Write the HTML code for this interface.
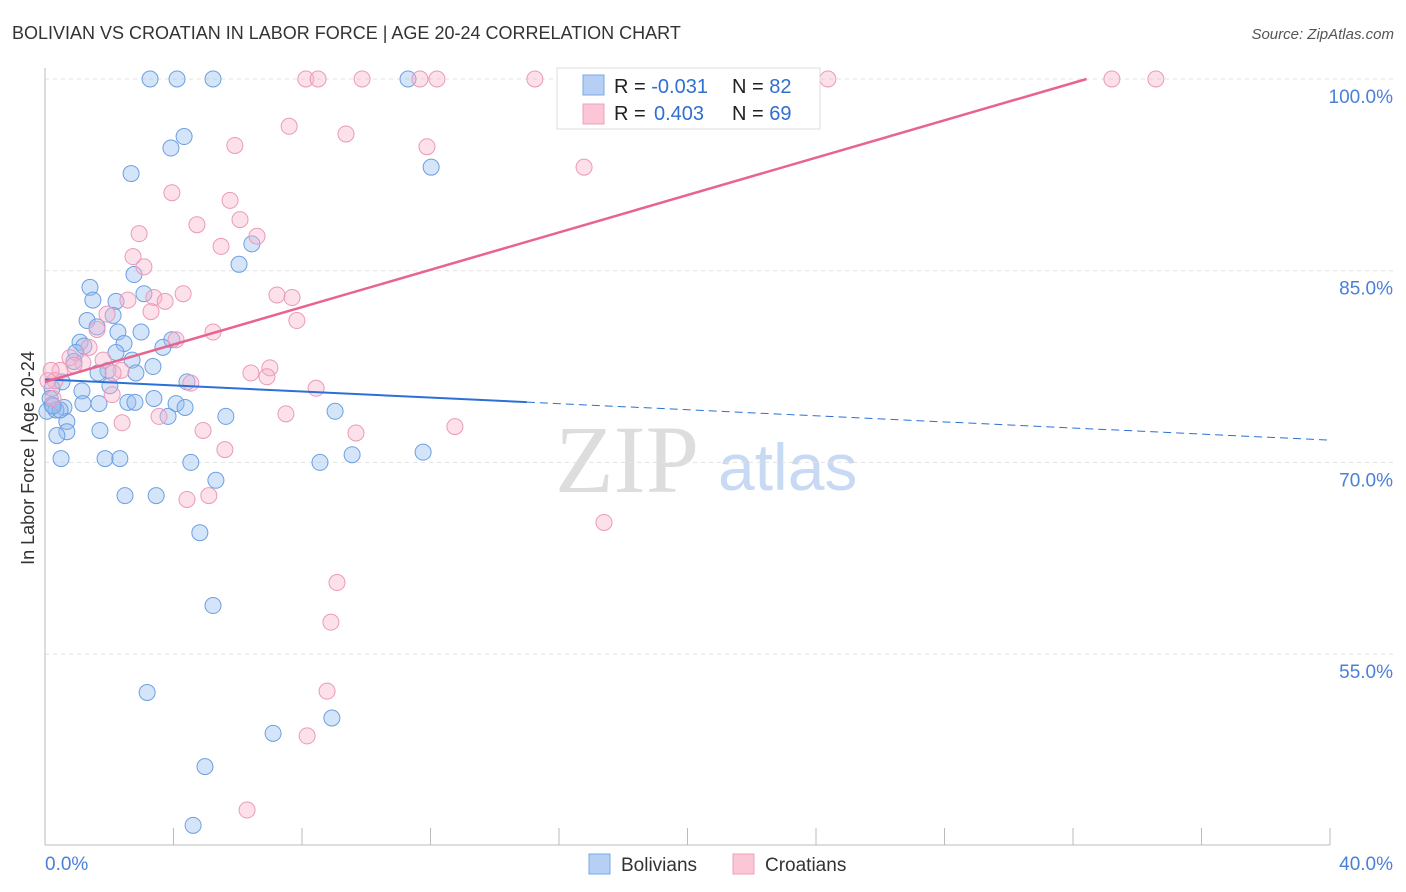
<!DOCTYPE html>
<html><head><meta charset="utf-8"><style>
body{margin:0;background:#fff;font-family:"Liberation Sans",sans-serif;}
svg{display:block}
</style></head><body>
<svg id="chart" width="1406" height="892">
<text x="12" y="39" font-size="18" fill="#333">BOLIVIAN VS CROATIAN IN LABOR FORCE | AGE 20-24 CORRELATION CHART</text>
<text x="1394" y="39" font-size="15" fill="#555" font-style="italic" text-anchor="end">Source: ZipAtlas.com</text>
<text x="555" y="492" font-size="96" fill="#ddd" font-family="Liberation Serif">ZIP</text>
<text x="718" y="490" font-size="66" fill="#c8daf3">atlas</text>
<text transform="translate(34,458) rotate(-90)" font-size="18" fill="#333" text-anchor="middle">In Labor Force | Age 20-24</text>
<g id="grid"></g><g id="ticks"></g><g id="pts"></g><g id="lines"></g>
<g>
<rect x="557" y="68" width="263" height="61" fill="#fff" stroke="#ddd"/>
<rect x="583" y="75" width="21" height="20" fill="#b6d0f5" stroke="#7aa8e6"/>
<rect x="583" y="104" width="21" height="20" fill="#fbc7d7" stroke="#eea0ba"/>
<text x="614" y="93" font-size="20" fill="#222">R = <tspan fill="#2f6fd0">-0.031</tspan><tspan x="732">N = </tspan><tspan fill="#2f6fd0">82</tspan></text>
<text x="614" y="120" font-size="20" fill="#222">R = <tspan fill="#2f6fd0" x="654">0.403</tspan><tspan x="732">N = </tspan><tspan fill="#2f6fd0">69</tspan></text>
</g>
<g>
<rect x="589" y="854" width="21" height="20" fill="#b6d0f5" stroke="#7aa8e6"/>
<text x="621" y="871" font-size="19" fill="#333">Bolivians</text>
<rect x="733" y="854" width="21" height="20" fill="#fbc7d7" stroke="#eea0ba"/>
<text x="765" y="871" font-size="19" fill="#333">Croatians</text>
</g>
</svg>
<script>
const yTicks=[100,85,70,55];
const yTickLabels=["100.0%","85.0%","70.0%","55.0%"];
const xTickLabels=["0.0%","40.0%"];
const bolX=[3.27,4.11,5.23,11.30,4.33,3.92,12.02,2.68,6.44,6.04,2.77,1.40,3.08,1.49,2.21,2.12,1.31,1.62,2.27,2.99,3.95,1.09,1.21,2.46,3.67,0.96,2.21,2.71,0.90,3.36,1.96,2.83,1.65,4.42,2.02,1.15,0.53,0.22,0.16,3.39,2.58,2.80,1.68,4.08,4.36,0.22,0.59,0.06,0.34,9.03,5.63,3.83,0.68,0.68,1.71,0.37,0.50,1.87,2.33,9.56,4.54,8.56,11.77,5.32,2.49,3.46,4.82,5.23,3.18,7.10,8.93,4.98,4.61,1.18,0.47,0.25];
const bolY=[100,100,100,100,95.5,94.6,93.1,92.6,87.1,85.5,84.7,83.7,83.2,82.7,82.6,81.5,81.1,80.6,80.2,80.2,79.6,79.4,79.1,79.3,79.0,78.6,78.6,78.0,77.9,77.5,77.2,77.0,77.0,76.3,76.0,75.6,76.3,75.8,75.0,75.0,74.7,74.7,74.6,74.6,74.3,74.5,74.3,74.0,74.1,74.0,73.6,73.6,73.2,72.4,72.5,72.1,70.3,70.3,70.3,70.6,70.0,70.0,70.8,68.6,67.4,67.4,64.5,58.8,52.0,48.8,50.0,46.2,41.6,74.6,74.1,74.4];
const croX=[8.12,8.50,9.87,11.67,12.20,15.25,22.57,22.97,24.37,33.21,34.58,7.60,9.37,5.91,11.89,16.78,3.95,5.76,4.73,6.07,2.93,6.60,5.48,2.74,3.08,4.30,2.58,7.22,7.69,3.39,3.74,3.30,7.84,1.93,5.23,1.62,4.08,1.37,0.78,1.81,1.18,0.90,0.47,0.19,2.37,2.12,6.41,7.00,6.91,0.31,4.54,8.44,2.09,7.50,3.55,2.40,4.92,9.68,12.76,5.60,4.42,5.10,17.40,9.09,8.90,8.78,8.16,6.29,0.09,0.25];
const croY=[100,100,100,100,100,100,100,100,100,100,100,96.3,95.7,94.8,94.7,93.1,91.1,90.5,88.6,89.0,87.9,87.7,86.9,86.1,85.3,83.2,82.7,83.1,82.9,82.9,82.6,81.8,81.1,81.6,80.2,80.4,79.6,79.0,78.2,78.0,77.8,77.6,77.2,77.2,77.2,77.0,77.0,77.4,76.7,76.4,76.2,75.8,75.3,73.8,73.6,73.1,72.5,72.3,72.8,71.0,67.1,67.4,65.3,60.6,57.5,52.1,48.6,42.8,76.4,75.0];
const bolTrend=[76.5,-0.119];
const croTrend=[76.3,0.731];
const NS="http://www.w3.org/2000/svg";
const X=v=>45+v/40*1285;
const Y=v=>79+(100-v)/15*191.7;
function mk(t,a,p){const e=document.createElementNS(NS,t);for(const k in a)e.setAttribute(k,a[k]);p.appendChild(e);return e;}
const grid=document.getElementById('grid');
yTicks.forEach((t,i)=>{
 const l=mk('line',{x1:45,x2:1393,y1:Y(t),y2:Y(t),stroke:'#e2e2e2','stroke-dasharray':'4,4'},grid);
 
 
 const tx=mk('text',{x:1393,y:Y(t)+24,'font-size':19,fill:'#4a80d8','text-anchor':'end'},grid);
 tx.textContent=yTickLabels[i];
 
 
});
const tk=document.getElementById('ticks');
mk('line',{x1:45,x2:45,y1:68,y2:845,stroke:'#bbb'},tk);
mk('line',{x1:45,x2:1330,y1:845,y2:845,stroke:'#bbb'},tk);
for(let i=0;i<=10;i++){const l=mk('line',{x1:X(i*4),x2:X(i*4),y1:828,y2:845,stroke:'#bbb'},tk);
 
 }
[[0,'start',45],[1,'end',1393]].forEach(([i,a,x])=>{const t=mk('text',{x:x,y:870,'font-size':19,fill:'#4a80d8','text-anchor':a},tk);t.textContent=xTickLabels[i];
 
 });
const pts=document.getElementById('pts');
bolX.forEach((v,i)=>{const c=mk('circle',{cx:X(v),cy:Y(bolY[i]),r:8,fill:'rgba(150,190,240,0.4)',stroke:'#6d9fe2','stroke-width':1},pts);
 
 });
croX.forEach((v,i)=>{const c=mk('circle',{cx:X(v),cy:Y(croY[i]),r:8,fill:'rgba(248,180,205,0.4)',stroke:'#eb9ab8','stroke-width':1},pts);
 
 });
const ln=document.getElementById('lines');
const bf=x=>bolTrend[0]+bolTrend[1]*x, cf=x=>croTrend[0]+croTrend[1]*x;
let l1=mk('line',{x1:X(0),y1:Y(bf(0)),x2:X(15),y2:Y(bf(15)),stroke:'#2b70d6','stroke-width':2},ln);


let l2=mk('line',{x1:X(15),y1:Y(bf(15)),x2:X(40),y2:Y(bf(40)),stroke:'#2b70d6','stroke-width':1,'stroke-dasharray':'8,5'},ln);


const xe=(100-croTrend[0])/croTrend[1];
let l3=mk('line',{x1:X(0),y1:Y(cf(0)),x2:X(xe),y2:Y(cf(xe)),stroke:'#e8648f','stroke-width':2.5},ln);


</script>
</body></html>
